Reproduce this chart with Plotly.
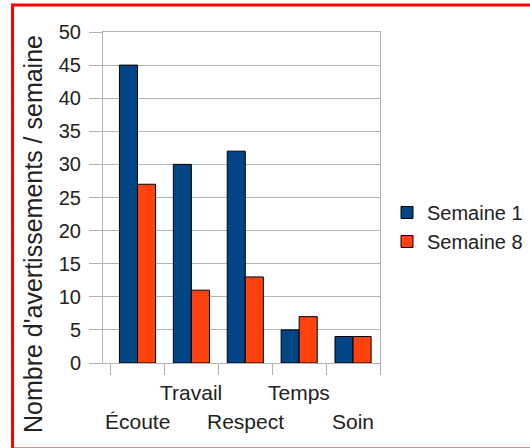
import plotly.graph_objects as go

categories = ["Écoute", "Travail", "Respect", "Temps", "Soin"]
semaine1 = [45, 30, 32, 5, 4]
semaine8 = [27, 11, 13, 7, 4]
series_names = ["Semaine 1", "Semaine 8"]
y_title = "Nombre d'avertissements / semaine"
y_ticks = [0, 5, 10, 15, 20, 25, 30, 35, 40, 45, 50]

W, H = 530, 448
L, R, T, B = 103, 150, 32, 85
PW, PH = W - L - R, H - T - B


def px_x(p):
    return (p - L) / PW


def px_y(p):
    return (H - B - p) / PH


fig = go.Figure()
fig.add_trace(go.Bar(x=categories, y=semaine1, name=series_names[0],
                     marker=dict(color="#004586", line=dict(color="#000000", width=1))))
fig.add_trace(go.Bar(x=categories, y=semaine8, name=series_names[1],
                     marker=dict(color="#ff420e", line=dict(color="#000000", width=1))))

annotations = []
for i, c in enumerate(categories):
    row_y = px_y(393) if i % 2 == 1 else px_y(421)
    annotations.append(dict(x=c, y=row_y, xref="x", yref="paper", text=c,
                            showarrow=False, xanchor="center", yanchor="middle",
                            font=dict(family="Liberation Sans", size=21, color="#222222")))
annotations.append(dict(x=px_x(33), y=px_y(234), xref="paper", yref="paper",
                        text=y_title, textangle=-90, showarrow=False,
                        xanchor="center", yanchor="middle",
                        font=dict(family="Liberation Sans", size=25, color="#222222")))

fig.update_layout(
    width=W, height=H,
    margin=dict(l=L, r=R, t=T, b=B, autoexpand=False),
    paper_bgcolor="white", plot_bgcolor="white",
    barmode="group", bargap=0.33, bargroupgap=0,
    font=dict(family="Liberation Sans", size=20, color="#222222"),
    showlegend=True,
    legend=dict(x=px_x(387), y=px_y(227), xanchor="left", yanchor="middle",
                font=dict(size=20, color="#222222"), tracegroupgap=6,
                bgcolor="rgba(0,0,0,0)", traceorder="normal"),
    annotations=annotations,
    shapes=[dict(type="rect", xref="paper", yref="paper",
                 x0=px_x(12.5), x1=px_x(545), y0=px_y(449), y1=px_y(5),
                 line=dict(color="#ff0000", width=3), fillcolor="rgba(0,0,0,0)")],
)
fig.update_xaxes(type="category", tickson="boundaries", ticks="outside", ticklen=11,
                 tickcolor="#b3b3b3", tickwidth=1, showticklabels=False,
                 showgrid=False, showline=True, linecolor="#b3b3b3", linewidth=1,
                 mirror=True, zeroline=False)
fig.update_yaxes(range=[0, 50], tickvals=y_ticks, ticks="outside", ticklen=13,
                 tickcolor="#b3b3b3", tickwidth=1, showgrid=True, gridcolor="#b3b3b3",
                 gridwidth=1, showline=True, linecolor="#b3b3b3", linewidth=1,
                 mirror=True, zeroline=False, ticklabelstandoff=4,
                 tickfont=dict(size=20, color="#222222"))

fig.write_html("out.html", config={"displayModeBar": False},
               post_script="document.body.style.margin='0';document.body.style.overflow='hidden';")
